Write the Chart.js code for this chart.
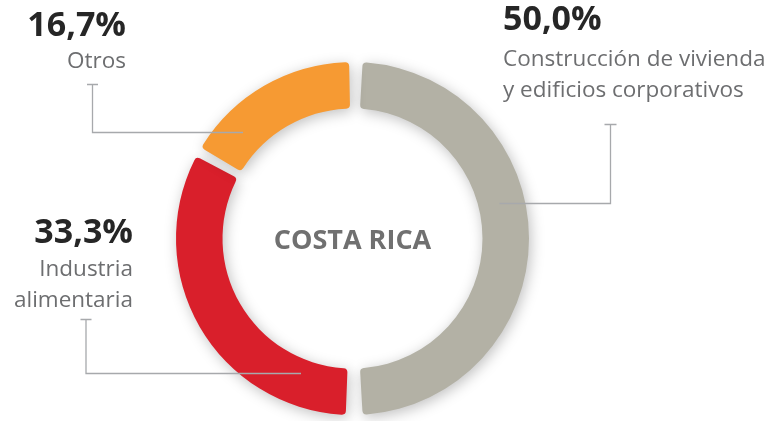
<!DOCTYPE html>
<html>
<head>
<meta charset="utf-8">
<script src="https://cdn.jsdelivr.net/npm/chart.js@4"></script>
<style>
  html, body { margin: 0; padding: 0; background: #fff; }
  #wrap { width: 774px; height: 421px; }
</style>
</head>
<body>
<div id="wrap"><canvas id="myChart" width="774" height="421"></canvas></div>
<script>
// datos
const categories = ['Construcción de vivienda y edificios corporativos', 'Industria alimentaria', 'Otros'];
const labelLines = [['Construcción de vivienda', 'y edificios corporativos'], ['Industria', 'alimentaria'], ['Otros']];
const shares = [50.0, 33.3, 16.7];
const colors = ['#b3b1a5', '#d91f2b', '#f69a33'];
const centerTitle = 'COSTA RICA';

// where each callout text sits and how its leader line bends
// reach: how far into the ring the leader goes (0 = inner edge, 1 = outer edge)
const callouts = [
  { align: 'left',  x: 503, pctY: 30,  lineY: [66, 97],   tickY: 124.5, stemX: 610.5, leaderY: 203.5, tickHalf: 6,   reach: 0.57 },
  { align: 'right', x: 133, pctY: 243, lineY: [276, 307], tickY: 319.5, stemX: 86,    leaderY: 373.5, tickHalf: 5.5, reach: 0.43 },
  { align: 'right', x: 126, pctY: 36,  lineY: [68],       tickY: 84.5,  stemX: 92.5,  leaderY: 132.5, tickHalf: 5.5, reach: 0.6 }
];

function fmtPct(v) {
  return v.toFixed(1).replace('.', ',') + '%';
}

const shadowPlugin = {
  id: 'ringShadow',
  beforeDatasetsDraw(chart) {
    const ctx = chart.ctx;
    ctx.save();
    ctx.shadowColor = 'rgba(0,0,0,0.25)';
    ctx.shadowBlur = 14;
    ctx.shadowOffsetX = 2;
    ctx.shadowOffsetY = 3;
  },
  afterDatasetsDraw(chart) {
    chart.ctx.restore();
  }
};

const calloutPlugin = {
  id: 'callouts',
  afterDraw(chart) {
    const ctx = chart.ctx;
    const arcs = chart.getDatasetMeta(0).data;
    ctx.save();

    // center text
    const a0 = arcs[0];
    ctx.fillStyle = '#707070';
    ctx.font = 'bold 27px "Open Sans"';
    ctx.textAlign = 'center';
    ctx.textBaseline = 'alphabetic';
    ctx.fillText(centerTitle, a0.x, a0.y + 10);

    callouts.forEach((c, i) => {
      const arc = arcs[i];
      ctx.textAlign = c.align;
      ctx.fillStyle = '#262626';
      ctx.font = 'bold 34px "Open Sans"';
      ctx.fillText(fmtPct(shares[i]), c.x, c.pctY);
      ctx.fillStyle = '#6d6e70';
      ctx.font = '22.5px "Open Sans"';
      labelLines[i].forEach((t, k) => ctx.fillText(t, c.x, c.lineY[k]));

      // leader line ends inside the ring
      const r = arc.innerRadius + (arc.outerRadius - arc.innerRadius) * c.reach;
      const dy = c.leaderY - arc.y;
      const dx = Math.sqrt(Math.max(r * r - dy * dy, 0));
      const endX = c.stemX > arc.x ? arc.x + dx : arc.x - dx;

      ctx.strokeStyle = '#a7a9ac';
      ctx.lineWidth = 1.3;
      ctx.beginPath();
      ctx.moveTo(c.stemX - c.tickHalf, c.tickY);
      ctx.lineTo(c.stemX + c.tickHalf, c.tickY);
      ctx.moveTo(c.stemX, c.tickY);
      ctx.lineTo(c.stemX, c.leaderY);
      ctx.lineTo(endX, c.leaderY);
      ctx.stroke();
    });
    ctx.restore();
  }
};

new Chart(document.getElementById('myChart'), {
  type: 'doughnut',
  data: {
    labels: categories,
    datasets: [{
      data: shares,
      backgroundColor: colors,
      borderWidth: 0,
      borderRadius: 4,
      spacing: 11
    }]
  },
  options: {
    responsive: false,
    animation: false,
    cutout: '72.8%',
    layout: {
      padding: { left: 176, right: 245, top: 62, bottom: 6 }
    },
    plugins: {
      legend: { display: false },
      tooltip: { enabled: false }
    }
  },
  plugins: [shadowPlugin, calloutPlugin]
});
</script>
</body>
</html>
